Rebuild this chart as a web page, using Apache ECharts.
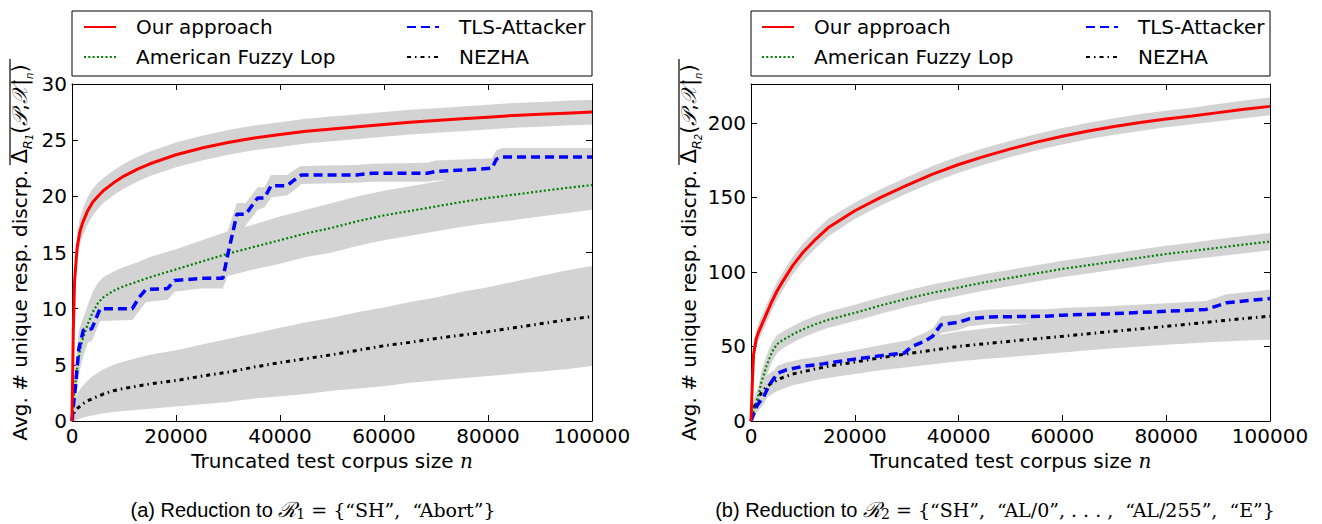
<!DOCTYPE html>
<html><head><meta charset="utf-8">
<script src="https://cdn.jsdelivr.net/npm/echarts@6/dist/echarts.min.js"></script>
<style>html,body{margin:0;padding:0;background:#fff}#c{width:1322px;height:524px}</style>
</head><body><div id="c"></div>
<script>
// ---------- data ----------
const seriesNames = ['Our approach', 'TLS-Attacker', 'American Fuzzy Lop', 'NEZHA'];
const xTicks = [0, 20000, 40000, 60000, 80000, 100000];
const yTicksR1 = [0, 5, 10, 15, 20, 25, 30];
const yTicksR2 = [0, 50, 100, 150, 200];

const nGrid = [0,250,500,1000,1500,2000,3000,4000,5000,6000,8000,10000,12500,15000,20000,25000,30000,35000,40000,45000,50000,55000,60000,65000,70000,75000,80000,85000,90000,95000,100000];

// Panel (a): R1
const oursR1    = [0,8,12.5,15.5,16.8,17.6,18.7,19.5,20.0,20.5,21.2,21.8,22.4,22.9,23.7,24.3,24.8,25.2,25.5,25.8,26.0,26.2,26.4,26.6,26.75,26.9,27.05,27.2,27.3,27.4,27.5];
const oursR1Lo  = [0,6.5,11,14.3,15.6,16.4,17.5,18.3,18.9,19.4,20.1,20.7,21.3,21.8,22.6,23.2,23.7,24.1,24.4,24.7,24.9,25.1,25.3,25.5,25.65,25.8,25.95,26.1,26.2,26.3,26.4];
const oursR1Hi  = [0,9.5,14,16.7,18,18.8,19.9,20.7,21.2,21.6,22.3,22.9,23.5,24,24.8,25.4,25.9,26.3,26.6,26.9,27.1,27.3,27.5,27.7,27.85,28,28.15,28.3,28.4,28.5,28.6];
const aflR1     = [0,1.5,2.8,4.8,6.2,7.2,8.6,9.7,10.5,11.0,11.6,12.0,12.4,12.8,13.5,14.2,14.9,15.5,16.1,16.7,17.2,17.8,18.3,18.7,19.1,19.5,19.85,20.15,20.45,20.75,21.0];
const aflR1Lo   = [0,0.5,1.5,3.2,4.5,5.5,6.9,7.9,8.7,9.3,9.9,10.3,10.7,11.0,11.7,12.3,12.9,13.5,14.0,14.6,15.0,15.6,16.1,16.5,16.9,17.3,17.6,17.9,18.2,18.5,18.8];
const aflR1Hi   = [0,2.5,4.1,6.4,7.9,8.9,10.3,11.5,12.3,12.8,13.3,13.7,14.1,14.6,15.3,16.1,16.9,17.5,18.2,18.8,19.4,20.0,20.5,20.9,21.3,21.7,22.1,22.4,22.7,23.0,23.2];
const nezhaR1   = [0,0.5,0.8,1.1,1.3,1.5,1.8,2.0,2.2,2.4,2.7,2.9,3.1,3.3,3.6,4.0,4.35,4.8,5.2,5.55,5.9,6.3,6.7,7.0,7.35,7.65,7.95,8.3,8.65,9.0,9.3];
const nezhaR1Lo = [0,0,0,0.1,0.2,0.3,0.4,0.5,0.6,0.7,0.8,0.9,1.0,1.1,1.3,1.5,1.7,2.0,2.2,2.4,2.7,2.9,3.1,3.4,3.6,3.8,4.0,4.2,4.4,4.6,4.9];
const nezhaR1Hi = [0,1.2,1.8,2.4,2.8,3.1,3.6,4.0,4.3,4.6,5.0,5.3,5.6,5.9,6.3,6.8,7.3,7.8,8.3,8.8,9.2,9.7,10.1,10.6,11.0,11.5,11.9,12.4,12.9,13.4,13.8];
const tlsR1N    = [0,300,700,1300,2200,3800,5400,11600,12900,14200,18400,19700,24800,29000,30000,31700,33400,35700,37000,38300,41400,42900,44100,54700,57700,68300,69800,80800,81600,82700,100000];
const tlsR1     = [0,1.5,3.2,6.4,8.1,8.2,10.0,10.0,11.0,11.7,11.8,12.5,12.7,12.7,14.9,18.4,18.4,19.85,19.85,20.95,20.95,21.5,21.9,21.9,22.06,22.06,22.2,22.5,23.3,23.5,23.5];
const tlsR1Lo   = [0,0.5,1.8,4.8,6.9,7.1,8.9,9.0,9.8,10.6,10.8,11.5,11.8,11.8,13.0,16.5,17.4,18.8,19.0,19.9,20.1,20.6,21.1,21.2,21.3,21.3,21.4,21.6,21.8,21.8,21.9];
const tlsR1Hi   = [0,2.5,4.6,8.0,9.3,9.4,11.1,11.1,12.2,12.8,12.8,13.5,13.6,13.8,17.0,19.4,19.4,20.8,20.8,21.9,21.9,22.4,22.7,22.8,22.9,23.0,23.2,23.4,24.1,24.3,24.3];

// Panel (b): R2
const oursR2    = [0,25,45,55,60,64,72,80,87,93,104,113,122,130,141,150,158,165.5,172,177.5,182.5,187,191,194.5,197.5,200.2,202.5,204.5,206.8,209,211];
const oursR2Lo  = [0,18,38,49,54,58,66,74,81,87,98,107,116,124,135.5,144.5,152.5,160,166.5,172,177,181.5,185.5,189,192,194.5,197,199,201,203,205];
const oursR2Hi  = [0,32,52,61,66,70,78,86,93,99,110,119,128,136,146.5,155.5,163.5,171,177.5,183,188,192.5,196.5,200,203,205.9,208,210,212.6,215,217];
const aflR2     = [0,4,7,12,18,26,37,46,51.5,54,58,61.5,65,68,72.5,77.5,82,86,89.5,93,96,99,102,104.5,107,109.5,112,114,116.2,118.3,120.3];
const aflR2Lo   = [0,1,3,7,12,19,30,39.5,45.5,48.5,52.5,56,59.5,62.5,67,72,76.5,80.5,84,87.5,90.5,93.5,96.5,99,101.5,104,106.5,108.5,110.5,112.5,114.5];
const aflR2Hi   = [0,7,11,17,24,33,44,52.5,57.5,59.5,63.5,67,70.5,73.5,78,83,87.5,91.5,95,98.5,101.5,104.5,107.5,110,112.5,115,117.5,119.5,122,124,126];
const nezhaR2   = [0,4,8,12.5,16,19,23,25.5,27.5,29,31.5,33,35,36.8,39.5,42.5,45,47.5,50,51.8,53.5,55.2,56.8,58.5,60.2,61.8,63.5,65.2,67,68.7,70.3];
const nezhaR2Lo = [0,1,3,6,9,11.5,15.5,18,20,21.5,24,25.5,27.5,29,31.5,34,36,38,40,41.5,43,44.5,46,47.5,48.8,50,51.2,52.2,53.2,54,54.5];
const nezhaR2Hi = [0,7,13,19,23,26.5,30.5,33,35,36.5,39,40.5,42.5,44.5,47.5,51,54,57,60,62,64,66,67.6,69.5,71.5,73.5,75.8,78.2,81,84.5,88];
const tlsR2N    = [0,400,1200,2400,3500,5100,6700,9800,13800,20000,25500,29500,31000,33400,35000,36600,40000,42000,46000,57000,60000,68800,80000,87700,91600,100000];
const tlsR2     = [0,3.8,10.6,16,24,32,34.2,36.5,38.3,41.5,44,45.5,50,53.4,56.8,64.6,66.2,68.5,69.8,70.3,71,71.8,73.6,74.8,79.3,82.2];
const tlsR2Lo   = [0,1,6,11,18.5,27,29.5,31.5,33.5,36.5,39,40.5,44.5,48,51.5,59,61,63.5,65,65.5,66,66.5,68,69,73.5,76.5];
const tlsR2Hi   = [0,7,15,21,29.5,37,39,41.5,43.5,46.5,49,50.5,55.5,59,62,70,71.5,73.5,74.8,75,75.8,77,79,80.5,85,88];

// ---------- styles ----------
const BAND = '#d3d3d3';
const styles = {
  'Our approach':       {color: '#ff0000', width: 3,   type: 'solid'},
  'TLS-Attacker':       {color: '#0000ff', width: 3.5, type: [9, 5]},
  'American Fuzzy Lop': {color: '#008000', width: 2.2, type: [2, 2.3]},
  'NEZHA':              {color: '#000000', width: 3,   type: [4, 4, 1.5, 4]}
};
const SANS = 'DejaVu Sans';

function pairs(xs, ys) { return xs.map((x, i) => [x, ys[i]]); }
function lineSeries(name, xs, ys, gi) {
  const s = styles[name];
  return {
    type: 'line', name, xAxisIndex: gi * 2, yAxisIndex: gi * 2,
    data: pairs(xs, ys), symbol: 'none', showSymbol: false, z: 5, silent: true,
    lineStyle: {color: s.color, width: s.width, type: s.type, cap: 'butt'},
    itemStyle: {color: s.color}
  };
}
// shaded band between lower and upper curves, drawn as one polygon via the axes' coord()
function bandSeries(xs, lo, hi, gi) {
  return {
    type: 'custom', name: 'band', xAxisIndex: gi * 2, yAxisIndex: gi * 2, z: 1, silent: true,
    data: xs.map((x, i) => [x, lo[i], hi[i]]),
    encode: {x: 0, y: [1, 2]},
    renderItem: function (params, api) {
      if (params.dataIndexInside !== 0) return null;
      const n = params.dataInsideLength;
      const top = [], bot = [];
      for (let i = 0; i < n; i++) {
        top.push(api.coord([api.value(0, i), api.value(2, i)]));
        bot.push(api.coord([api.value(0, i), api.value(1, i)]));
      }
      return {type: 'polygon', shape: {points: top.concat(bot.reverse())}, style: {fill: BAND, stroke: null}, silent: true};
    }
  };
}

const grids = [
  {left: 72, top: 84, width: 520, height: 337},
  {left: 751, top: 84, width: 519, height: 337}
];

const tickStyle = {show: true, inside: true, length: 6, lineStyle: {color: '#000', width: 1}};
const lineStyleAx = {show: true, onZero: false, lineStyle: {color: '#000', width: 1}};
const lblStyle = {color: '#000', fontFamily: SANS, fontSize: 20};

function xAxes(gi) {
  return [
    {type: 'value', gridIndex: gi, position: 'bottom', min: 0, max: 100000, interval: 20000,
     axisLine: lineStyleAx, axisTick: tickStyle, splitLine: {show: false},
     axisLabel: Object.assign({margin: 5, customValues: xTicks, formatter: v => String(v)}, lblStyle),
     name: '{a|Truncated test corpus size }{n|n}', nameLocation: 'middle', nameGap: 27,
     nameTextStyle: {rich: {
       a: {fontFamily: SANS, fontSize: 20, color: '#000'},
       n: {fontFamily: 'DejaVu Serif', fontStyle: 'italic', fontSize: 20, color: '#000'}}}},
    {type: 'value', gridIndex: gi, position: 'top', min: 0, max: 100000, interval: 20000,
     axisLine: lineStyleAx, axisTick: tickStyle, axisLabel: {show: false}, splitLine: {show: false}}
  ];
}
function yName(sub) {
  return '{t|Avg. # unique resp. discrp. }{d|Δ}{r|R}{o|' + sub + '}{d|(}{c|𝒫}{d|,}{c|𝒳}{d||}{o|n}{d|)}';
}
const yRich = {
  t: {fontFamily: SANS, fontSize: 20, color: '#000', lineHeight: 28, verticalAlign: 'middle'},
  d: {fontFamily: SANS, fontSize: 21, color: '#000', lineHeight: 28, verticalAlign: 'middle'},
  c: {fontFamily: 'DejaVu Serif', fontStyle: 'italic', fontSize: 21, color: '#000', lineHeight: 28, verticalAlign: 'middle'},
  r: {fontFamily: SANS, fontStyle: 'italic', fontSize: 13, color: '#000', lineHeight: 14, verticalAlign: 'bottom'},
  o: {fontFamily: SANS, fontStyle: 'italic', fontSize: 10, color: '#000', lineHeight: 10, verticalAlign: 'bottom'}
};
function yAxes(gi, max, interval, ticks, sub, gap) {
  return [
    {type: 'value', gridIndex: gi, position: 'left', min: 0, max: max, interval: interval,
     axisLine: lineStyleAx, axisTick: Object.assign({}, tickStyle, {customValues: ticks}), splitLine: {show: false},
     axisLabel: Object.assign({margin: 5, customValues: ticks}, lblStyle),
     name: yName(sub), nameLocation: 'middle', nameRotate: 90, nameGap: gap,
     nameTextStyle: {rich: yRich}},
    {type: 'value', gridIndex: gi, position: 'right', min: 0, max: max, interval: interval,
     axisLine: lineStyleAx, axisTick: Object.assign({}, tickStyle, {customValues: ticks}),
     axisLabel: {show: false}, splitLine: {show: false}}
  ];
}

const series = [
  bandSeries(nGrid, oursR1Lo, oursR1Hi, 0),
  bandSeries(nGrid, aflR1Lo, aflR1Hi, 0),
  bandSeries(nGrid, nezhaR1Lo, nezhaR1Hi, 0),
  bandSeries(tlsR1N, tlsR1Lo, tlsR1Hi, 0),
  bandSeries(nGrid, oursR2Lo, oursR2Hi, 1),
  bandSeries(nGrid, aflR2Lo, aflR2Hi, 1),
  bandSeries(nGrid, nezhaR2Lo, nezhaR2Hi, 1),
  bandSeries(tlsR2N, tlsR2Lo, tlsR2Hi, 1),
  lineSeries('NEZHA', nGrid, nezhaR1, 0),
  lineSeries('American Fuzzy Lop', nGrid, aflR1, 0),
  lineSeries('TLS-Attacker', tlsR1N, tlsR1, 0),
  lineSeries('Our approach', nGrid, oursR1, 0),
  lineSeries('NEZHA', nGrid, nezhaR2, 1),
  lineSeries('American Fuzzy Lop', nGrid, aflR2, 1),
  lineSeries('TLS-Attacker', tlsR2N, tlsR2, 1),
  lineSeries('Our approach', nGrid, oursR2, 1)
];

function legend(left, names) {
  return {
    orient: 'vertical', left: left, top: 17, padding: 0, itemGap: 10,
    itemWidth: 32, itemHeight: 14, selectedMode: false,
    itemStyle: {opacity: 0},
    data: names,
    textStyle: {fontFamily: SANS, fontSize: 20, color: '#000', lineHeight: 20, padding: [0, 0, 0, 15]}
  };
}

const captionRich = {
  a: {fontFamily: 'Liberation Sans', fontSize: 20, fill: '#000'},
  m: {fontFamily: 'DejaVu Serif', fontStyle: 'italic', fontSize: 21, fill: '#000'},
  s: {fontFamily: 'DejaVu Serif', fontSize: 14, fill: '#000', verticalAlign: 'bottom', lineHeight: 12}
};

const option = {
  animation: false,
  backgroundColor: '#fff',
  grid: grids,
  xAxis: xAxes(0).concat(xAxes(1)),
  yAxis: yAxes(0, 30, 5, yTicksR1, '1', 38).concat(yAxes(1, 226, 50, yTicksR2, '2', 48)),
  legend: [
    legend(83, [seriesNames[0], seriesNames[2]]),
    legend(406, [seriesNames[1], seriesNames[3]]),
    legend(761, [seriesNames[0], seriesNames[2]]),
    legend(1085, [seriesNames[1], seriesNames[3]])
  ],
  series: series,
  graphic: [
    {type: 'rect', shape: {x: 72, y: 11, width: 520, height: 65}, style: {fill: 'none', stroke: '#000', lineWidth: 1}, silent: true},
    {type: 'rect', shape: {x: 751, y: 11, width: 519, height: 65}, style: {fill: 'none', stroke: '#000', lineWidth: 1}, silent: true},
    {type: 'line', shape: {x1: 10, y1: 59, x2: 10, y2: 165}, style: {stroke: '#000', lineWidth: 1.2}, silent: true},
    {type: 'line', shape: {x1: 679, y1: 59, x2: 679, y2: 165}, style: {stroke: '#000', lineWidth: 1.2}, silent: true},
    {type: 'text', x: 313, y: 510, silent: true,
     style: {text: '{a|(a) Reduction to }{m|ℛ}{s|1} = {“SH”,  “Abort”}', font: '19px "DejaVu Serif"', fill: '#000',
             align: 'center', verticalAlign: 'middle', rich: captionRich}},
    {type: 'text', x: 995, y: 510, silent: true,
     style: {text: '{a|(b) Reduction to }{m|ℛ}{s|2} = {“SH”,  “AL/0”, . . . ,  “AL/255”,  “E”}', font: '19px "DejaVu Serif"', fill: '#000',
             align: 'center', verticalAlign: 'middle', rich: captionRich}}
  ]
};

const chart = echarts.init(document.getElementById('c'), null, {renderer: 'svg'});
chart.setOption(option);
</script>
</body></html>
